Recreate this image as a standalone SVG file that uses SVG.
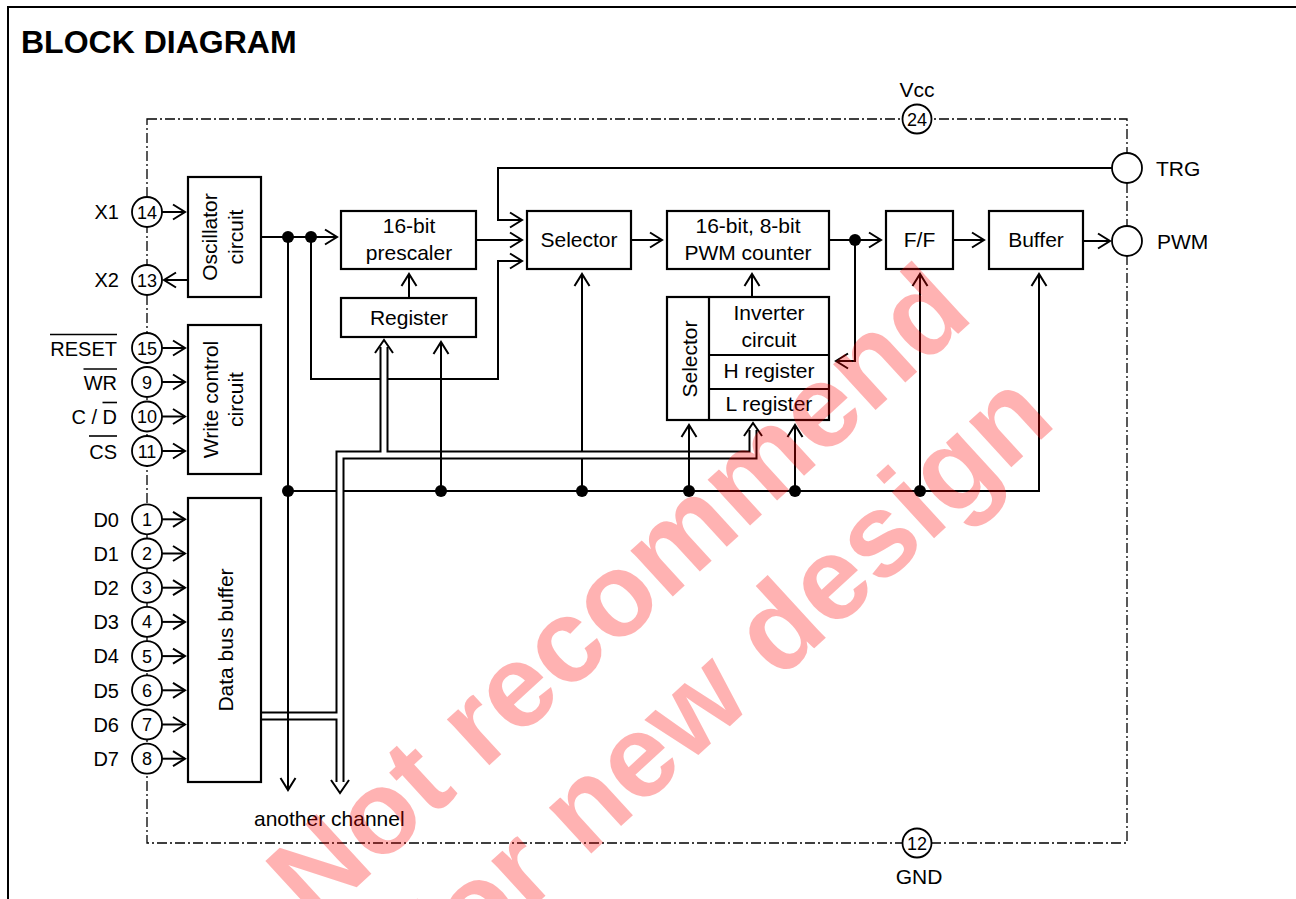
<svg xmlns="http://www.w3.org/2000/svg" width="1296" height="899" viewBox="0 0 1296 899">
<defs>
<marker id="ah" viewBox="-14 -9 16 18" refX="0" refY="0" markerWidth="16" markerHeight="18" markerUnits="userSpaceOnUse" orient="auto">
<path d="M-12,-7.5 L0,0 L-12,7.5" fill="none" stroke="#000" stroke-width="2"/>
</marker>
<style>
.t{font-family:"Liberation Sans",Arial,sans-serif;font-size:21px;fill:#000}
.pl{font-size:20px;text-anchor:end}
.pn{font-size:18px;text-anchor:middle}
.c{text-anchor:middle}
.box{fill:#fff;stroke:#000;stroke-width:2.2}
.w{fill:none;stroke:#000;stroke-width:2}
.a{marker-end:url(#ah)}
.dd{fill:none;stroke:#000;stroke-width:1.3;stroke-dasharray:10 3 2 3}
.pin{fill:#fff;stroke:#000;stroke-width:1.8}
.dot{fill:#000}
.hb{fill:none;stroke:#000;stroke-width:9}
.hw{fill:none;stroke:#fff;stroke-width:5}
.ov{stroke:#000;stroke-width:1.6}
.wm{font-family:"Liberation Sans",Arial,sans-serif;font-weight:bold;font-size:118px;fill:#ff0000;fill-opacity:0.3;text-anchor:middle}
</style>
</defs>
<rect width="1296" height="899" fill="#fff"/>
<path d="M8,899 V7 H1296" fill="none" stroke="#000" stroke-width="2"/>
<text class="t" x="21" y="53" style="font-size:32px;font-weight:bold">BLOCK DIAGRAM</text>
<rect id="ic-boundary" class="dd" x="147" y="119" width="980" height="724"/>

<g id="connectors">
<path class="w" d="M288,491 H1039 V274" marker-end="url(#ah)"/>
<path class="w" d="M582,491 V274" marker-end="url(#ah)"/>
<path class="w" d="M261,237 H337" marker-end="url(#ah)"/>
<path class="w" d="M311,237 V379 H498 V261 H522" marker-end="url(#ah)"/>
<path class="w" d="M1112,168 H498 V220 H522" marker-end="url(#ah)"/>
<path class="w" d="M476,240 H522" marker-end="url(#ah)"/>
<path class="w" d="M409,298 V274" marker-end="url(#ah)"/>
<path class="w" d="M631,240 H662" marker-end="url(#ah)"/>
<path class="w" d="M752,297 V274" marker-end="url(#ah)"/>
<path class="w" d="M829,240 H881" marker-end="url(#ah)"/>
<path class="w" d="M855,240 V361 H836" marker-end="url(#ah)"/>
<path class="w" d="M953,240 H984" marker-end="url(#ah)"/>
<path class="w" d="M1083,241 H1110" marker-end="url(#ah)"/>
<path class="w" d="M795,491 V425" marker-end="url(#ah)"/>
<path class="w" d="M920,491 V274" marker-end="url(#ah)"/>
<!-- hollow data bus -->
<path class="hb" d="M340,782 V455 H753 V430"/>
<path class="hb" d="M261,716 H340"/>
<path class="hb" d="M384,455 V347"/>
<path class="hw" d="M340,782 V455 H753 V430"/>
<path class="hw" d="M261,716 H340"/>
<path class="hw" d="M384,455 V347"/>
<path class="w" d="M331,780 L340,793 L349,780"/>
<path class="w" d="M744,436 L753,423 L762,436"/>
<path class="w" d="M375,353 L384,340 L393,353"/>
<path class="w" d="M288,237 V790" marker-end="url(#ah)"/>
<path class="w" d="M441,491 V342" marker-end="url(#ah)"/>
<path class="w" d="M689,491 V425" marker-end="url(#ah)"/>
<!-- pin arrows -->
<path class="w" d="M162,212 H185" marker-end="url(#ah)"/>
<path class="w" d="M188,280 H164" marker-end="url(#ah)"/>
<path class="w" d="M162,348 H185" marker-end="url(#ah)"/>
<path class="w" d="M162,382 H185" marker-end="url(#ah)"/>
<path class="w" d="M162,416.5 H185" marker-end="url(#ah)"/>
<path class="w" d="M162,451 H185" marker-end="url(#ah)"/>
<path class="w" d="M162,519.3 H185" marker-end="url(#ah)"/>
<path class="w" d="M162,553.5 H185" marker-end="url(#ah)"/>
<path class="w" d="M162,587.7 H185" marker-end="url(#ah)"/>
<path class="w" d="M162,621.9 H185" marker-end="url(#ah)"/>
<path class="w" d="M162,656.1 H185" marker-end="url(#ah)"/>
<path class="w" d="M162,690.3 H185" marker-end="url(#ah)"/>
<path class="w" d="M162,724.5 H185" marker-end="url(#ah)"/>
<path class="w" d="M162,758.7 H185" marker-end="url(#ah)"/>
<circle class="dot" cx="288" cy="237" r="6"/>
<circle class="dot" cx="311" cy="237" r="6"/>
<circle class="dot" cx="855" cy="240" r="6"/>
<circle class="dot" cx="288" cy="491" r="6"/>
<circle class="dot" cx="441" cy="491" r="6"/>
<circle class="dot" cx="582" cy="491" r="6"/>
<circle class="dot" cx="689" cy="491" r="6"/>
<circle class="dot" cx="795" cy="491" r="6"/>
<circle class="dot" cx="920" cy="491" r="6"/>
</g>

<g id="oscillator">
<rect class="box" x="188" y="177" width="73" height="120"/>
<g transform="translate(224.5,237) rotate(-90)">
<text class="t c" x="0" y="-7.5">Oscillator</text>
<text class="t c" x="0" y="18.5">circuit</text>
</g>
</g>
<g id="write-control">
<rect class="box" x="188" y="325" width="73" height="149"/>
<g transform="translate(224.5,399.5) rotate(-90)">
<text class="t c" x="0" y="-7">Write control</text>
<text class="t c" x="0" y="18.5">circuit</text>
</g>
</g>
<g id="data-bus-buffer">
<rect class="box" x="188" y="498" width="73" height="284"/>
<g transform="translate(224.5,640) rotate(-90)">
<text class="t c" x="0" y="8.5">Data bus buffer</text>
</g>
</g>
<g id="prescaler">
<rect class="box" x="341" y="211" width="135" height="58"/>
<text class="t c" x="409" y="233">16-bit</text>
<text class="t c" x="409" y="259.5">prescaler</text>
</g>
<g id="register">
<rect class="box" x="341" y="298" width="135" height="39"/>
<text class="t c" x="409" y="325">Register</text>
</g>
<g id="selector">
<rect class="box" x="527" y="211" width="104" height="58"/>
<text class="t c" x="579" y="247">Selector</text>
</g>
<g id="pwm-counter">
<rect class="box" x="667" y="211" width="162" height="58"/>
<text class="t c" x="748" y="233">16-bit, 8-bit</text>
<text class="t c" x="748" y="260">PWM counter</text>
</g>
<g id="register-stack">
<rect class="box" x="667" y="297" width="162" height="123"/>
<path class="w" d="M709,297 V420 M709,355 H829 M709,389 H829" style="stroke-width:2.2"/>
<g transform="translate(688,359) rotate(-90)">
<text class="t c" x="0" y="8.7">Selector</text>
</g>
<text class="t c" x="769" y="320">Inverter</text>
<text class="t c" x="769" y="346.5">circuit</text>
<text class="t c" x="769" y="378">H register</text>
<text class="t c" x="769" y="411">L register</text>
</g>
<g id="ff">
<rect class="box" x="886" y="211" width="67" height="58"/>
<text class="t c" x="919.5" y="247">F/F</text>
</g>
<g id="buffer">
<rect class="box" x="989" y="211" width="94" height="58"/>
<text class="t c" x="1036" y="247">Buffer</text>
</g>

<g id="pins-left">
<circle class="pin" cx="147" cy="212" r="15"/><text class="t pn" x="147" y="218.5">14</text><text class="t pl" x="119" y="219">X1</text>
<circle class="pin" cx="147" cy="280" r="15"/><text class="t pn" x="147" y="286.5">13</text><text class="t pl" x="119" y="287">X2</text>
<circle class="pin" cx="147" cy="348" r="15"/><text class="t pn" x="147" y="354.5">15</text><text class="t pl" x="117" y="355.5">RESET</text>
<line class="ov" x1="50" y1="334.5" x2="117" y2="334.5"/>
<circle class="pin" cx="147" cy="382" r="15"/><text class="t pn" x="147" y="388.5">9</text><text class="t pl" x="117" y="389.5">WR</text>
<line class="ov" x1="83.5" y1="369" x2="117" y2="369"/>
<circle class="pin" cx="147" cy="416.5" r="15"/><text class="t pn" x="147" y="423">10</text><text class="t pl" x="117" y="424">C / D</text>
<line class="ov" x1="102.5" y1="402.5" x2="117" y2="402.5"/>
<circle class="pin" cx="147" cy="451" r="15"/><text class="t pn" x="147" y="457.5">11</text><text class="t pl" x="117" y="458.5">CS</text>
<line class="ov" x1="89" y1="436" x2="117" y2="436"/>
<circle class="pin" cx="147" cy="519.3" r="15"/><text class="t pn" x="147" y="525.8">1</text><text class="t pl" x="119" y="526.5">D0</text>
<circle class="pin" cx="147" cy="553.5" r="15"/><text class="t pn" x="147" y="560">2</text><text class="t pl" x="119" y="560.7">D1</text>
<circle class="pin" cx="147" cy="587.7" r="15"/><text class="t pn" x="147" y="594.2">3</text><text class="t pl" x="119" y="594.9">D2</text>
<circle class="pin" cx="147" cy="621.9" r="15"/><text class="t pn" x="147" y="628.4">4</text><text class="t pl" x="119" y="629.1">D3</text>
<circle class="pin" cx="147" cy="656.1" r="15"/><text class="t pn" x="147" y="662.6">5</text><text class="t pl" x="119" y="663.3">D4</text>
<circle class="pin" cx="147" cy="690.3" r="15"/><text class="t pn" x="147" y="696.8">6</text><text class="t pl" x="119" y="697.5">D5</text>
<circle class="pin" cx="147" cy="724.5" r="15"/><text class="t pn" x="147" y="731">7</text><text class="t pl" x="119" y="731.7">D6</text>
<circle class="pin" cx="147" cy="758.7" r="15"/><text class="t pn" x="147" y="765.2">8</text><text class="t pl" x="119" y="765.9">D7</text>
</g>
<g id="pin-vcc">
<circle class="pin" cx="917" cy="119" r="14.5"/><text class="t pn" x="917" y="125.5">24</text>
<text class="t c" x="917" y="97">Vcc</text>
</g>
<g id="pin-gnd">
<circle class="pin" cx="917" cy="843" r="14.5"/><text class="t pn" x="917" y="849.5">12</text>
<text class="t c" x="919" y="884">GND</text>
</g>
<g id="pin-trg">
<circle class="pin" cx="1127" cy="168" r="15"/>
<text class="t" x="1156" y="176">TRG</text>
</g>
<g id="pin-pwm">
<circle class="pin" cx="1127" cy="241" r="15"/>
<text class="t" x="1157" y="249">PWM</text>
</g>
<text class="t" x="254" y="826">another channel</text>

<g id="watermark" transform="translate(645,622) rotate(-42.6)">
<text class="wm" x="0" y="0">Not recommend</text>
<text class="wm" x="22" y="134">for new design</text>
</g>
</svg>
